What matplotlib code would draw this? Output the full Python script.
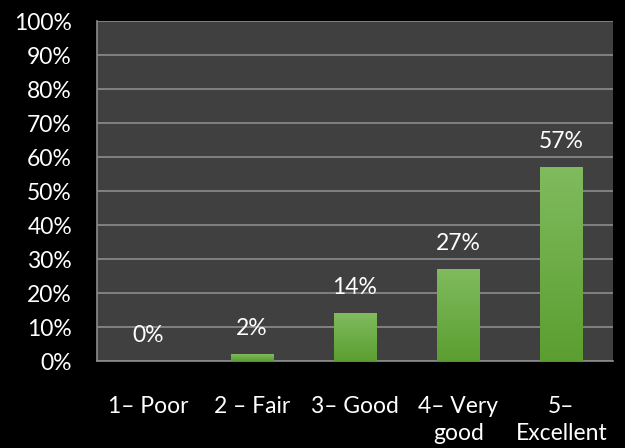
import numpy as np
import matplotlib
matplotlib.use("Agg")
import matplotlib.pyplot as plt
from matplotlib.colors import LinearSegmentedColormap

categories = ["1– Poor", "2 – Fair", "3– Good", "4– Very\ngood", "5–\nExcellent"]
valeurs = [0, 2, 14, 27, 57]
yticks = list(range(0, 101, 10))

plt.rcParams["font.family"] = ["Lato", "DejaVu Sans"]
TAILLE = 16.5

fig = plt.figure(figsize=(6.25, 4.48), dpi=100, facecolor="black")
ax = fig.add_axes([97 / 625, 1 - 361 / 448, 516 / 625, 340 / 448])
ax.set_facecolor("#404040")

x = np.arange(len(valeurs))
largeur = 0.41
ax.set_xlim(-0.5, len(valeurs) - 0.5)
ax.set_ylim(0, 100)

# degrade vert des barres (clair en haut, fonce en bas)
cmap = LinearSegmentedColormap.from_list("vert", ["#5c9e30", "#80bb5e"])
grad = np.linspace(0, 1, 256).reshape(-1, 1)
barres = ax.bar(x, valeurs, width=largeur, color="none", zorder=3)
for b, v in zip(barres, valeurs):
    if v <= 0:
        continue
    x0 = b.get_x()
    im = ax.imshow(grad, cmap=cmap, origin="lower", aspect="auto",
                   extent=[x0, x0 + largeur, 0, v], zorder=3)
    im.set_clip_path(b)

for xi, v in zip(x, valeurs):
    ax.annotate(f"{v}%", (xi, v), xytext=(0, 18.5), textcoords="offset points",
                ha="center", va="center", color="white", fontsize=TAILLE)

ax.set_yticks(yticks)
ax.set_yticklabels([f"{t}%" for t in yticks], color="white", fontsize=TAILLE)
ax.set_xticks(x)
ax.set_xticklabels(categories, color="white", fontsize=TAILLE, linespacing=1.35)
ax.tick_params(axis="y", length=0, pad=18)
ax.tick_params(axis="x", length=0, pad=25)

ax.grid(axis="y", color="#8c8c8c", linewidth=1.2, zorder=1)
ax.set_axisbelow(True)
for nom, sp in ax.spines.items():
    if nom in ("left", "bottom"):
        sp.set_color("#8c8c8c")
        sp.set_linewidth(1.2)
    else:
        sp.set_visible(False)

fig.savefig("out.png", dpi=100, facecolor="black")
